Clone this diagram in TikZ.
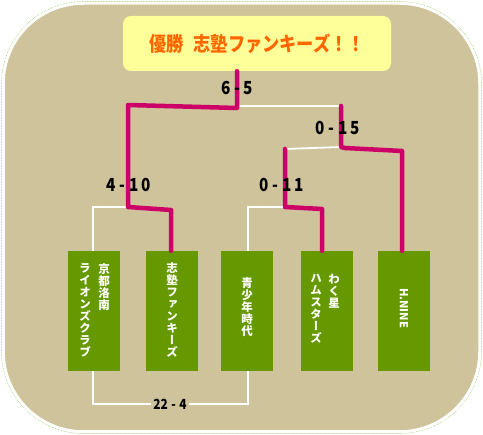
\documentclass[tikz,border=0pt]{standalone}
\usepackage{fontspec}
\newfontfamily\jp{Noto Sans CJK JP}
\newfontfamily\jpt{Noto Sans CJK JP}[FakeStretch=0.86, BoldFeatures={FakeStretch=0.86}]
\newfontfamily\jps{Noto Sans CJK JP}[FakeStretch=0.85, BoldFeatures={FakeStretch=0.85}]
\newfontfamily\vjp{Noto Sans CJK JP}[RawFeature={+vert}]
\definecolor{bg}{HTML}{CEC39B}
\definecolor{ttl}{HTML}{FFFF99}
\definecolor{org}{HTML}{FF6600}
\definecolor{grn}{HTML}{669900}
\definecolor{mag}{HTML}{CC0066}
\definecolor{edge}{HTML}{99CC66}
\newcommand{\sg}{\hspace{3.5pt}}
\tikzset{
  team/.style={fill=grn, minimum width=52pt, minimum height=120pt, inner sep=0pt},
  vcol/.style={text=white, align=center, inner sep=0pt, font=\vjp\bfseries\fontsize{11.5}{12}\selectfont},
  win/.style={draw=mag, line width=4.5pt, line cap=round, line join=round},
  lose/.style={draw=white, line width=1.8pt},
  score/.style={font=\jps\bfseries\fontsize{18}{18}\selectfont, inner sep=0pt}
}
\begin{document}
\begin{tikzpicture}[x=1pt,y=-1pt]
\useasboundingbox (0,0) rectangle (483,435);
\draw[edge, line width=0.6pt, densely dotted, rounded corners=82pt] (1.5,1.5) rectangle (481.5,433.5);
\draw[white, fill=bg, line width=2.5pt, rounded corners=80pt] (3.5,3.5) rectangle (479.5,431.5);
% title
\node[fill=ttl, rounded corners=8pt, minimum width=268pt, minimum height=55pt, inner sep=0pt,
  text=org, font=\jpt\bfseries\fontsize{20}{20}\selectfont] (title) at (257,43.5) {優勝\hspace{0.5em}志塾ファンキーズ！！};
% teams
\node[team] (t1) at (94,311) {};
\node[team] (t2) at (172,311) {};
\node[team] (t3) at (247,311) {};
\node[team] (t4) at (327,311) {};
\node[team] (t5) at (404,311) {};
\node[vcol, anchor=north] (t1a) at (104,263) {京\\都\\洛\\南};
\node[vcol, anchor=north] (t1b) at (85,263) {ラ\\イ\\オ\\ン\\ズ\\ク\\ラ\\ブ};
\node[vcol, anchor=north] (t2a) at (172,262) {志\\塾\\フ\\ァ\\ン\\キ\\ー\\ズ};
\node[vcol, anchor=north] (t3a) at (247,277) {青\\少\\年\\時\\代};
\node[vcol, anchor=north] (t4a) at (334,274) {わ\\く\\星};
\node[vcol, anchor=north] (t4b) at (316,274) {ハ\\ム\\ス\\タ\\ー\\ズ};
\node[text=white, font=\jp\bfseries\fontsize{11}{11}\selectfont, rotate=-90, inner sep=0pt] (t5a) at (404,308) {H.NINE};
% coordinates
\coordinate (top) at (237,106);
\coordinate (L) at (128,105);
\coordinate (R) at (341,106);
\coordinate (Lb) at (128,207);
\coordinate (Rb) at (341,147);
\coordinate (Q) at (285,149);
\coordinate (Qb) at (285,207);
\coordinate (w1) at (93,207);
\coordinate (w3) at (248,207);
\coordinate (b1) at (93,404);
\coordinate (b3) at (248,404);
% losing lines
\draw[lose] (top) -- (R) -- (Rb) -- (Q);
\draw[lose] (t1.north -| w1) -- (w1) -- (Lb);
\draw[lose] (t3.north -| w3) -- (w3) -- (Qb);
\draw[lose] (t1.south -| b1) -- (b1) -- (b3) -- (t3.south -| b3);
% winning lines
\draw[win] (title.south -| top) -- (237,108) -- (L) -- (Lb) -- (171,210) -- (t2.north -| 171,0);
\draw[win] (R) -- (Rb) -- (345,148) -- (402,151) -- (t5.north -| 402,0);
\draw[win] (Q) -- (Qb) -- (322,209) -- (t4.north -| 322,0);
% scores
\node[score] (s1) at (237,88) {6\sg-\sg5};
\node[score] (s2) at (129,185) {4\sg-\sg1\sg0};
\node[score] (s3) at (338,128) {0\sg-\sg1\sg5};
\node[score] (s4) at (282,185) {0\sg-\sg1\sg1};
\node[score, fill=bg, inner xsep=2pt, font=\jps\bfseries\fontsize{14}{14}\selectfont] (s5) at (170,404) {22\sg-\sg4};
\end{tikzpicture}
\end{document}
